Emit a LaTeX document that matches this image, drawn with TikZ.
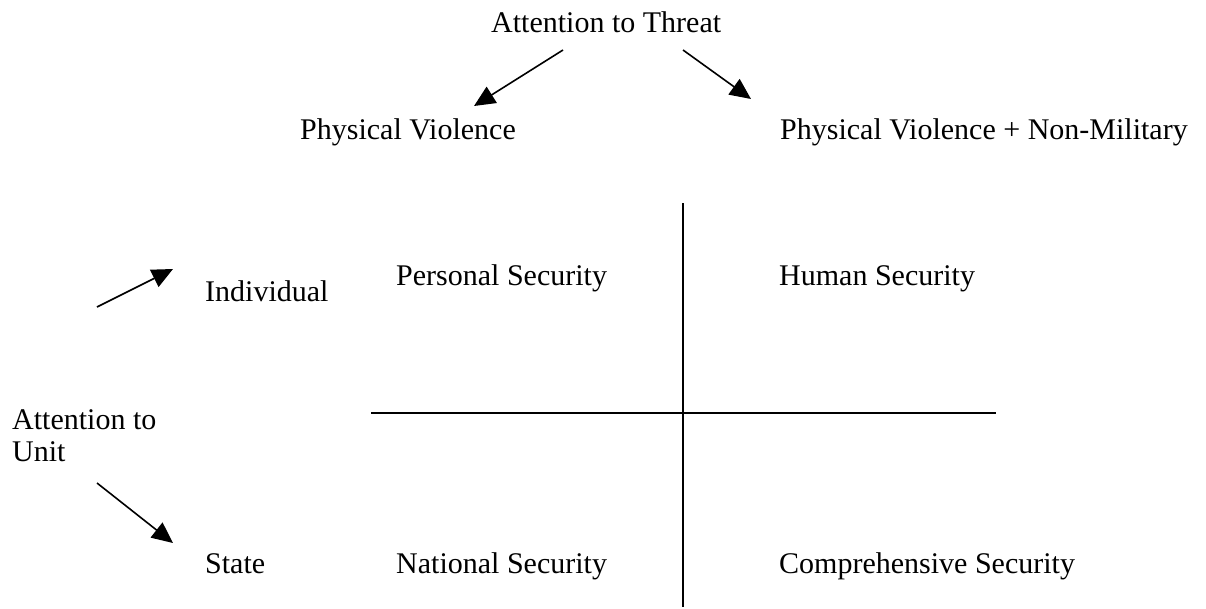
\documentclass[tikz,border=0pt]{standalone}
\usepackage{fontspec}
\setmainfont{Liberation Serif}
\usetikzlibrary{arrows.meta}
\begin{document}
\begin{tikzpicture}[x=1pt,y=-1pt,
  lbl/.style={anchor=base west,inner sep=0pt,font=\fontsize{30}{32}\selectfont},
  arr/.style={line width=1.6pt,-{Triangle[length=21pt,width=19pt]}},
  axis/.style={line width=1.6pt}]
\useasboundingbox (0,0) rectangle (1206,608);
\node[lbl] (threat) at (491,32) {Attention to Threat};
\node[lbl] (pv) at (300,139) {Physical Violence};
\node[lbl] (pvnm) at (780,139) {Physical Violence + Non-Military};
\node[lbl] (pers) at (396,285) {Personal Security};
\node[lbl] (hum) at (779,285) {Human Security};
\node[lbl] (ind) at (205,301) {Individual};
\node[lbl] (unit1) at (12,429) {Attention to};
\node[lbl] (unit2) at (12,461) {Unit};
\node[lbl] (state) at (205,573) {State};
\node[lbl] (nat) at (396,573) {National Security};
\node[lbl] (comp) at (779,573) {Comprehensive Security};
\coordinate (a1s) at (563,50); \coordinate (a1e) at (474,106);
\coordinate (a2s) at (683,50); \coordinate (a2e) at (751,99);
\coordinate (a3s) at (97,307); \coordinate (a3e) at (173,269);
\coordinate (a4s) at (97,483); \coordinate (a4e) at (173,543);
\draw[arr] (a1s) -- (a1e);
\draw[arr] (a2s) -- (a2e);
\draw[arr] (a3s) -- (a3e);
\draw[arr] (a4s) -- (a4e);
\coordinate (vt) at (683,203); \coordinate (vb) at (683,607);
\coordinate (hl) at (371,413); \coordinate (hr) at (996,413);
\draw[axis] (vt) -- (vb);
\draw[axis] (hl) -- (hr);
\end{tikzpicture}
\end{document}
